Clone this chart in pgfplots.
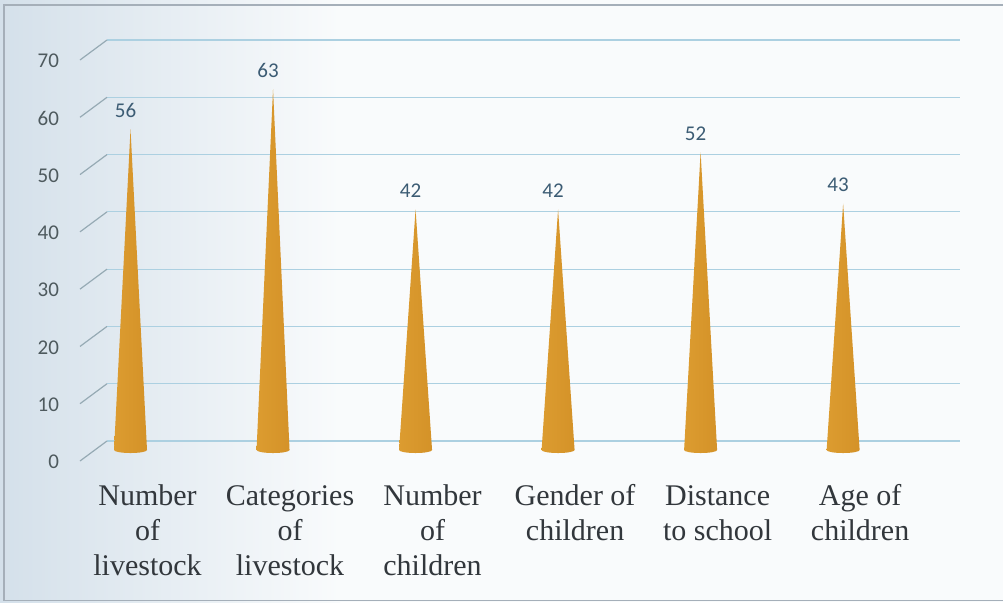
\documentclass[border=0pt]{standalone}
\usepackage{pgfplots}
\pgfplotsset{compat=1.18}
\usepackage{pgfplotstable}
\usepackage{fontspec}
\setmainfont{Liberation Serif}
\newfontfamily\calibri{Carlito}
\newfontfamily\timesf{Liberation Serif}

\definecolor{gridc}{RGB}{172,208,225}
\definecolor{diagc}{RGB}{150,170,180}
\definecolor{tickc}{RGB}{78,90,94}
\definecolor{valc}{RGB}{60,92,116}
\definecolor{xlabc}{RGB}{50,55,60}
\definecolor{coneL}{RGB}{220,156,48}
\definecolor{coneM}{RGB}{238,178,64}
\definecolor{coneR}{RGB}{212,146,40}
\definecolor{bgL}{RGB}{212,224,234}
\definecolor{bgR}{RGB}{249,251,252}
\definecolor{framec}{RGB}{165,175,185}

\newcommand{\xl}[1]{{\timesf\fontsize{15}{17.5}\selectfont\color{xlabc}\begin{tabular}{@{}c@{}}#1\end{tabular}}}

\pgfplotstableread{
x v
0 56
1 63
2 42
3 42
4 52
5 43
}\conedata

\newcommand{\yunit}{2.8643pt}
\pgfdeclareplotmark{cone}{%
  \shade[draw=none, left color=coneL, middle color=coneM, right color=coneR]
    (0pt,0pt) -- (-8.25pt,{-\coneval*\yunit})
    arc[start angle=180, end angle=360, x radius=8.25pt, y radius=1.5pt]
    -- cycle;
}

\begin{document}
\begin{tikzpicture}
\path[use as bounding box] (0,0) rectangle (501.5pt,301pt);
\fill[bgR] (0,0) rectangle (501.5pt,301pt);
\shade[left color=bgL, right color=bgR] (0,0) rectangle (170pt,301pt);
\draw[framec, line width=0.6pt] (2pt,0.8pt) rectangle (520pt,298.5pt);

% back wall: gridlines and value axis
\begin{axis}[
  at={(53.5pt,80.5pt)}, anchor=south west,
  scale only axis, width=426.5pt, height=200.5pt,
  xmin=-0.165, xmax=5.82, ymin=0, ymax=70,
  axis line style={draw=none},
  xtick=\empty,
  ytick={0,10,...,70},
  ymajorgrids, grid style={gridc, line width=0.6pt},
  major tick length=0pt,
  /pgf/number format/assume math mode=true,
  yticklabel style={font=\calibri\fontsize{10.5}{12}\selectfont, text=tickc,
    anchor=east, xshift=-20.5pt, yshift=-10.5pt},
  clip=false,
]
\pgfplotsinvokeforeach{0,10,...,70}{
  \draw[diagc, line width=0.6pt] (axis cs:-0.165,#1) -- ++(-13.5pt,-10pt);
}
\end{axis}

% cones
\begin{axis}[
  at={(53.5pt,76pt)}, anchor=south west,
  scale only axis, width=426.5pt, height=200.5pt,
  xmin=-0.165, xmax=5.82, ymin=0, ymax=70,
  axis line style={draw=none},
  ytick=\empty,
  xtick={0,1,2,3,4,5},
  xticklabels={\xl{Number\\of\\livestock},\xl{Categories\\of\\livestock},\xl{Number\\of\\children},\xl{Gender of\\children},\xl{Distance\\to school},\xl{Age of\\children}},
  major tick length=0pt,
  xticklabel style={anchor=north, xshift=8.5pt, yshift=-12pt},
  clip=false,
  /pgf/number format/assume math mode=true,
  nodes near coords,
  every node near coord/.append style={font=\calibri\fontsize{10.5}{12}\selectfont,
    text=valc, xshift=-2.5pt, yshift=2.3pt},
]
\addplot[scatter, only marks, mark=cone,
  visualization depends on={y \as \coneval},
  point meta=explicit] table[x=x, y=v, meta=v] {\conedata};
\end{axis}
\end{tikzpicture}
\end{document}
